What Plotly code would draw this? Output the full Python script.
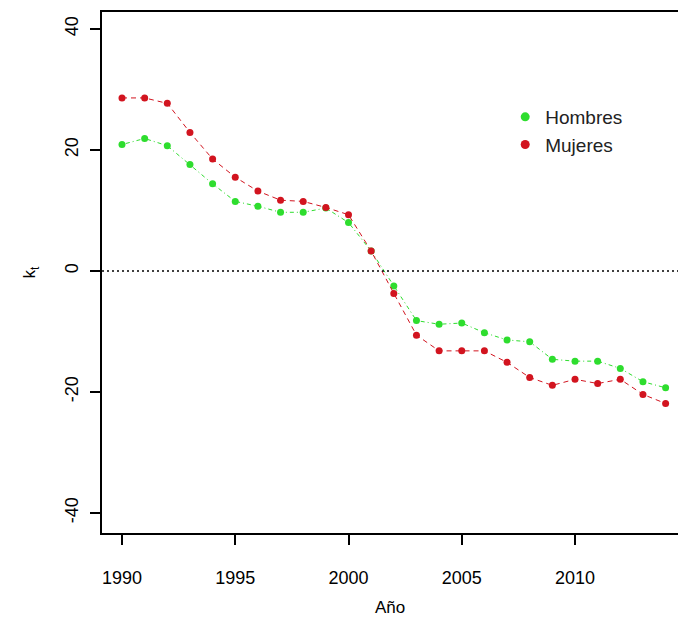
import plotly.graph_objects as go

years = list(range(1990, 2015))
hombres = [20.9, 21.9, 20.7, 17.6, 14.4, 11.5, 10.7, 9.7, 9.7, 10.4, 8.0, 3.3, -2.5,
           -8.2, -8.8, -8.6, -10.2, -11.4, -11.7, -14.6, -14.9, -14.9, -16.1, -18.3, -19.3]
mujeres = [28.6, 28.6, 27.7, 22.9, 18.5, 15.5, 13.2, 11.7, 11.5, 10.5, 9.3, 3.3, -3.7,
           -10.6, -13.2, -13.2, -13.2, -15.1, -17.6, -18.9, -17.9, -18.6, -17.9, -20.4, -21.9]
xticks = [1990, 1995, 2000, 2005, 2010]
yticks = [-40, -20, 0, 20, 40]
yticklabels = ["-40", "-20", "0", "20", "40"]

GREEN = "#2edd2e"
RED = "#d2141f"
FONT = "Liberation Sans, Arial, sans-serif"

fig = go.Figure()
fig.add_trace(go.Scatter(x=years, y=hombres, mode="lines+markers", showlegend=False,
                         line=dict(color=GREEN, width=1, dash="1px,3px,4px,3px"),
                         marker=dict(color=GREEN, size=7)))
fig.add_trace(go.Scatter(x=years, y=mujeres, mode="lines+markers", showlegend=False,
                         line=dict(color=RED, width=1, dash="5px,4px"),
                         marker=dict(color=RED, size=7)))
# legend entries (markers only)
fig.add_trace(go.Scatter(x=[None], y=[None], mode="markers", name="Hombres",
                         marker=dict(color=GREEN, size=9)))
fig.add_trace(go.Scatter(x=[None], y=[None], mode="markers", name="Mujeres",
                         marker=dict(color=RED, size=9)))

fig.add_shape(type="line", xref="paper", x0=0, x1=1, yref="y", y0=0, y1=0,
              line=dict(color="black", width=1.5, dash="2px,3px"))

fig.update_layout(
    width=678, height=621,
    margin=dict(l=102, r=0, t=12, b=88),
    plot_bgcolor="white", paper_bgcolor="white",
    font=dict(family=FONT, color="black"),
    legend=dict(x=0.70, y=0.835, xanchor="left", yanchor="top",
                bgcolor="rgba(0,0,0,0)", font=dict(size=19, color="#222"),
                itemwidth=30, tracegroupgap=0),
    xaxis=dict(range=[1989.117, 2014.547], tickvals=xticks, ticks="outside", ticklen=10,
               tickwidth=1.5, tickcolor="black", showgrid=False, zeroline=False,
               showline=True, linecolor="black", linewidth=1.5, mirror=True,
               ticklabelstandoff=18,
               tickfont=dict(size=18), title=dict(text="Año", font=dict(size=17), standoff=14)),
    yaxis=dict(range=[-43.3, 42.8], tickvals=yticks, ticktext=yticklabels, ticks="outside",
               ticklen=10, tickwidth=1.5, tickcolor="black", showgrid=False, zeroline=False,
               showline=True, linecolor="black", linewidth=1.5, ticklabelstandoff=5,
               tickangle=-90, tickfont=dict(size=18),
               title=dict(text="k<sub>t</sub>", font=dict(size=17), standoff=22)),
)

fig.write_html("out.html")
